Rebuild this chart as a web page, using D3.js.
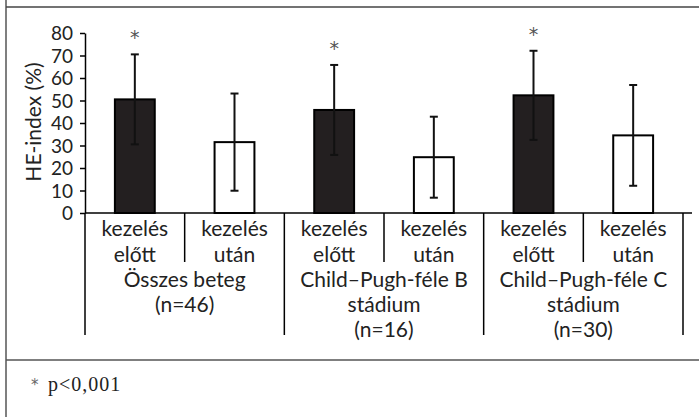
<!DOCTYPE html>
<html><head><meta charset="utf-8">
<script src="https://cdn.jsdelivr.net/npm/d3@7"></script>
<style>body{margin:0;background:#fff}svg{display:block}</style>
</head><body>
<script>
const categories = ["kezelés előtt","kezelés után","kezelés előtt","kezelés után","kezelés előtt","kezelés után"];
const catLine1 = ["kezelés","kezelés","kezelés","kezelés","kezelés","kezelés"];
const catLine2 = ["előtt","után","előtt","után","előtt","után"];
const groups = [["Összes beteg","(n=46)"],["Child–Pugh-féle B","stádium","(n=16)"],["Child–Pugh-féle C","stádium","(n=30)"]];
const values = [50.5, 31.5, 45.8, 24.8, 52.3, 34.5];
const errors = [20.0, 21.6, 20.0, 18.0, 19.8, 22.4];
const significant = [true, false, true, false, true, false];
const yTicks = [0,10,20,30,40,50,60,70,80];
const footnote = "p<0,001";

const W = 699, H = 417;
const svg = d3.select("body").append("svg").attr("width", W).attr("height", H);
const font = "Lato, 'Open Sans', sans-serif";
const fs = 21;

// frame lines
svg.append("line").attr("x1",6).attr("x2",6).attr("y1",0).attr("y2",H).attr("stroke","#555").attr("stroke-width",1.5);
svg.append("line").attr("x1",6).attr("x2",W).attr("y1",7).attr("y2",7).attr("stroke","#444").attr("stroke-width",1.5);
svg.append("line").attr("x1",6).attr("x2",W).attr("y1",360).attr("y2",360).attr("stroke","#555").attr("stroke-width",1.5);

const x0 = 85, x1 = 683;
const x = d3.scaleBand().domain(d3.range(categories.length)).range([x0, x1]).paddingInner(0.6).paddingOuter(0.3);
const y = d3.scaleLinear().domain([0, 80]).range([213, 33]);
const step = x.step();

// y axis
const ya = svg.append("g").attr("transform", `translate(${x0},0)`)
  .call(d3.axisLeft(y).tickValues(yTicks).tickSize(5).tickSizeOuter(0).tickPadding(7));
ya.select(".domain").attr("stroke","#000").attr("stroke-width",1.5);
ya.selectAll(".tick line").attr("stroke","#000").attr("stroke-width",1.5);
ya.selectAll(".tick text").attr("font-family",font).attr("font-size",19).attr("fill","#222").attr("dy","0.36em");

svg.append("text").attr("transform","translate(41,122) rotate(-90)").attr("text-anchor","middle")
  .attr("font-family",font).attr("font-size",fs).attr("fill","#222").text("HE-index (%)");

// bars
svg.selectAll("rect.bar").data(values).join("rect").attr("class","bar")
  .attr("x",(d,i)=>x(i)).attr("width",x.bandwidth())
  .attr("y",d=>y(d)).attr("height",d=>y(0)-y(d))
  .attr("fill",(d,i)=>i%2===0?"#231f20":"#fff").attr("stroke","#000").attr("stroke-width",2);

// error bars
const eg = svg.append("g").attr("stroke","#111").attr("stroke-width",2);
values.forEach((v,i)=>{
  const cx = x(i)+x.bandwidth()/2;
  eg.append("line").attr("x1",cx).attr("x2",cx).attr("y1",y(v+errors[i])).attr("y2",y(v-errors[i]));
  eg.append("line").attr("x1",cx-4).attr("x2",cx+4).attr("y1",y(v+errors[i])).attr("y2",y(v+errors[i]));
  eg.append("line").attr("x1",cx-4).attr("x2",cx+4).attr("y1",y(v-errors[i])).attr("y2",y(v-errors[i]));
  if (significant[i]) {
    svg.append("text").attr("x",cx).attr("y",y(v+errors[i])-10).attr("text-anchor","middle")
      .attr("font-family","'DejaVu Sans', sans-serif").attr("font-size",19).attr("fill","#555").text("*");
  }
});

// x axis line
svg.append("line").attr("x1",x0).attr("x2",692).attr("y1",y(0)).attr("y2",y(0)).attr("stroke","#000").attr("stroke-width",1.5);
// separators
for (let i=0;i<=categories.length;i++){
  const xx = x0 + i*step;
  svg.append("line").attr("x1",xx).attr("x2",xx).attr("y1",y(0)).attr("y2", i%2===0?335:262)
    .attr("stroke","#000").attr("stroke-width",1.5);
}
// category labels
categories.forEach((c,i)=>{
  const cx = x(i)+x.bandwidth()/2;
  [catLine1[i],catLine2[i]].forEach((t,k)=>{
    svg.append("text").attr("x",cx).attr("y",236+k*25.5).attr("text-anchor","middle")
      .attr("font-family",font).attr("font-size",fs).attr("fill","#222").text(t);
  });
});
groups.forEach((g,gi)=>{
  const cx = x0 + (gi*2+1)*step;
  g.forEach((t,k)=>{
    svg.append("text").attr("x",cx).attr("y",287+k*25).attr("text-anchor","middle")
      .attr("font-family",font).attr("font-size",fs).attr("fill","#222").text(t);
  });
});

// footnote
svg.append("text").attr("x",31).attr("y",390).attr("font-family","'DejaVu Sans', sans-serif").attr("font-size",15).attr("fill","#666").text("*");
svg.append("text").attr("x",48).attr("y",391).attr("font-family","'Liberation Serif', serif").attr("font-size",20).attr("letter-spacing",1).attr("fill","#222").text(footnote);
</script>
</body></html>
